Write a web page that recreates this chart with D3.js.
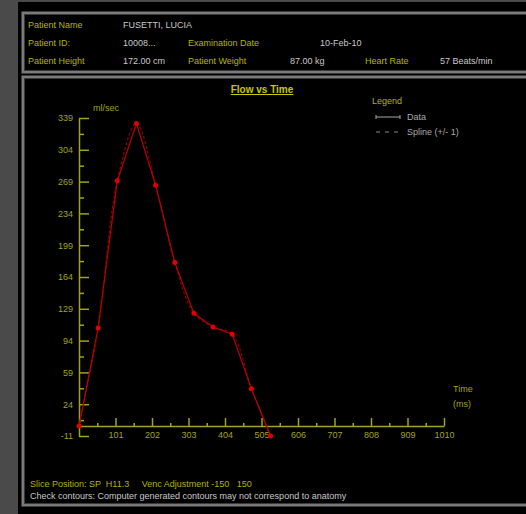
<!DOCTYPE html>
<html>
<head>
<meta charset="utf-8">
<script src="https://cdn.jsdelivr.net/npm/d3@7"></script>
<style>
  body { margin: 0; background: #000; }
  svg { display: block; font-family: "Liberation Sans", Arial, sans-serif; }
</style>
</head>
<body>
<svg id="chart" width="526" height="514"></svg>
<script>
// data
const times = [0, 53, 106, 159, 212, 265, 318, 371, 424, 477, 530];
const flows = [0, 108, 270, 333, 265, 180, 124, 109, 101, 41, -11];
const yTicks = [-11, 24, 59, 94, 129, 164, 199, 234, 269, 304, 339];
const xTicks = [101, 202, 303, 404, 505, 606, 707, 808, 909, 1010];

const headerLabels = [
  ["Patient Name", "FUSETTI, LUCIA"],
  ["Patient ID:", "10008..."],
  ["Examination Date", "10-Feb-10"],
  ["Patient Height", "172.00 cm"],
  ["Patient Weight", "87.00 kg"],
  ["Heart Rate", "57 Beats/min"]
];

const yellow = "#b4b400";
const axisYellow = "#a3a31c";
const grey = "#c8c8c8";

const svg = d3.select("#chart");

// background frame
svg.append("rect").attr("width", 526).attr("height", 514).attr("fill", "#000");
svg.append("rect").attr("width", 18).attr("height", 514).attr("fill", "#4a4a4a");
svg.append("rect").attr("width", 526).attr("height", 2).attr("fill", "#4a4a4a");

function box(x, y, w, h) {
  svg.append("rect").attr("x", x).attr("y", y).attr("width", w).attr("height", h)
    .attr("fill", "none").attr("stroke", "#7a7a7a").attr("stroke-width", 3);
  svg.append("rect").attr("x", x + 1.5).attr("y", y + 1.5).attr("width", w - 3).attr("height", h - 3)
    .attr("fill", "none").attr("stroke", "#3a3a3a").attr("stroke-width", 1);
}
box(23, 13, 520, 59);
box(23, 77, 520, 428);

// header
const hdr = svg.append("g").attr("font-size", 9);
const cells = [
  [0, 28, 28, 123], [1, 28, 46, 123], [2, 188, 46, 320],
  [3, 28, 64, 123], [4, 188, 64, 290], [5, 365, 64, 440]
];
cells.forEach(([i, lx, y, vx]) => {
  hdr.append("text").attr("x", lx).attr("y", y).attr("fill", yellow).text(headerLabels[i][0]);
  hdr.append("text").attr("x", vx).attr("y", y).attr("fill", grey).text(headerLabels[i][1]);
});

// scales
const x = d3.scaleLinear().domain([0, 1010]).range([79, 444]);
const y = d3.scaleLinear().domain([-11, 339]).range([436, 118]);
const plain = d => String(d);

// y axis
svg.append("g").attr("transform", `translate(${x(0)},0)`)
  .call(d3.axisLeft(y).tickValues(yTicks).tickFormat(plain)
    .tickSizeInner(-10).tickSizeOuter(0).tickPadding(6));
const yMinor = d3.range(0, yTicks.length - 1).map(i => (yTicks[i] + yTicks[i + 1]) / 2);
svg.append("g").attr("transform", `translate(${x(0)},0)`)
  .call(d3.axisLeft(y).tickValues(yMinor).tickSizeInner(-5).tickSizeOuter(0).tickFormat(""))
  .select(".domain").remove();

// x axis at zero flow
svg.append("g").attr("transform", `translate(0,${y(0)})`)
  .call(d3.axisBottom(x).tickValues(xTicks).tickFormat(plain)
    .tickSizeInner(-8).tickSizeOuter(0).tickPadding(6));
const xMinor = xTicks.map(t => t - 50.5);
svg.append("g").attr("transform", `translate(0,${y(0)})`)
  .call(d3.axisBottom(x).tickValues(xMinor).tickSizeInner(-3).tickSizeOuter(0).tickFormat(""))
  .select(".domain").remove();

svg.selectAll(".domain, .tick line").attr("stroke", axisYellow).attr("stroke-width", 1.5);
svg.selectAll(".tick text").attr("fill", axisYellow).attr("font-size", 9)
  .attr("font-family", "Liberation Sans, Arial, sans-serif");

// series
const pts = times.map((t, i) => [t, flows[i]]);
svg.append("path").datum(pts)
  .attr("d", d3.line().x(d => x(d[0])).y(d => y(d[1])).curve(d3.curveCatmullRom))
  .attr("fill", "none").attr("stroke", "#8a0000").attr("stroke-width", 1.2)
  .attr("stroke-dasharray", "3,2");
svg.append("path").datum(pts)
  .attr("d", d3.line().x(d => x(d[0])).y(d => y(d[1])))
  .attr("fill", "none").attr("stroke", "#b80000").attr("stroke-width", 1.2);
svg.append("g").selectAll("circle").data(pts).enter().append("circle")
  .attr("cx", d => x(d[0])).attr("cy", d => y(d[1])).attr("r", 2.5)
  .attr("fill", "#e00000");

// titles and labels
svg.append("text").attr("x", 262).attr("y", 93).attr("text-anchor", "middle")
  .attr("font-size", 10).attr("font-weight", "bold").attr("fill", "#c8c800")
  .attr("text-decoration", "underline").text("Flow vs Time");
svg.append("text").attr("x", 93).attr("y", 111).attr("font-size", 9)
  .attr("fill", axisYellow).text("ml/sec");
svg.append("text").attr("x", 453).attr("y", 392).attr("font-size", 9)
  .attr("fill", axisYellow).text("Time");
svg.append("text").attr("x", 453).attr("y", 407).attr("font-size", 9)
  .attr("fill", axisYellow).text("(ms)");

// legend
const lg = svg.append("g").attr("font-size", 9);
lg.append("text").attr("x", 372).attr("y", 104).attr("fill", yellow).text("Legend");
lg.append("line").attr("x1", 376).attr("x2", 400).attr("y1", 117).attr("y2", 117)
  .attr("stroke", "#aaa").attr("stroke-width", 1);
lg.selectAll(".ep").data([376, 400]).enter().append("line")
  .attr("x1", d => d).attr("x2", d => d).attr("y1", 115).attr("y2", 119)
  .attr("stroke", "#aaa");
lg.append("text").attr("x", 407).attr("y", 120).attr("fill", "#aaa").text("Data");
lg.append("line").attr("x1", 376).attr("x2", 400).attr("y1", 132).attr("y2", 132)
  .attr("stroke", "#888").attr("stroke-dasharray", "4,5");
lg.append("text").attr("x", 407).attr("y", 135).attr("fill", "#aaa").text("Spline (+/- 1)");

// footer
svg.append("text").attr("x", 30).attr("y", 487).attr("font-size", 9).attr("fill", yellow)
  .attr("xml:space", "preserve").text("Slice Position: SP  H11.3     Venc Adjustment -150   150");
svg.append("text").attr("x", 30).attr("y", 499).attr("font-size", 9).attr("fill", grey)
  .text("Check contours: Computer generated contours may not correspond to anatomy");
</script>
</body>
</html>
